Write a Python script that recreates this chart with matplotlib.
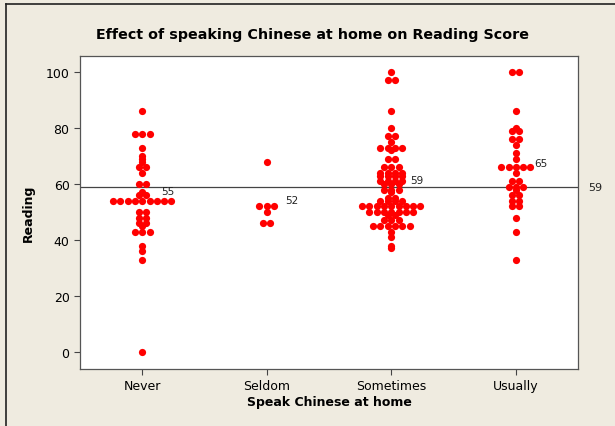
import matplotlib
matplotlib.use("Agg")
import matplotlib.pyplot as plt
from matplotlib.lines import Line2D
import numpy as np

# Reading scores by how often Chinese is spoken at home
categories = ["Never", "Seldom", "Sometimes", "Usually"]

never = [86, 78, 78, 78, 73, 70, 69, 68, 66, 66, 64, 60, 60, 57, 56, 56,
         54, 54, 54, 54, 54, 54, 54, 54, 54, 50, 50, 48, 48, 46, 46, 45,
         43, 43, 43, 38, 36, 33, 0]
seldom = [68, 52, 52, 52, 50, 46, 46]
sometimes = [100, 97, 97, 86, 80, 77, 77, 75, 73, 73, 73, 73, 72, 69, 69,
             66, 66, 66, 64, 64, 64, 64, 63, 63, 63, 63, 61, 61, 61, 61,
             60, 60, 60, 58, 58, 58, 57, 55, 55, 54, 54, 54, 54,
             52, 52, 52, 52, 52, 52, 52, 52, 52,
             50, 50, 50, 50, 50, 50, 50, 49, 49, 47, 47, 47,
             45, 45, 45, 45, 45, 45, 43, 41, 38, 37]
usually = [100, 100, 86, 80, 79, 79, 76, 76, 74, 71, 69, 66, 66, 66, 66, 66,
           64, 61, 61, 59, 59, 59, 58, 56, 56, 54, 54, 52, 52, 48, 43, 33]

groups = [never, seldom, sometimes, usually]
group_means = [55, 52, 59, 65]
grand_mean = 59

BG = "#EFEBE0"
DOT = "#FF0000"
STEP = 0.0585  # horizontal spacing of stacked dots, in category units

fig = plt.figure(figsize=(6.15, 4.27), dpi=100, facecolor=BG)
ax = fig.add_axes([0.130, 0.1335, 0.810, 0.733])
ax.set_facecolor("white")

for i, vals in enumerate(groups):
    pos = i + 1
    vals = np.array(vals)
    for v in np.unique(vals):
        n = np.sum(vals == v)
        offs = (np.arange(n) - (n - 1) / 2) * STEP
        ax.scatter(pos + offs, np.full(n, v), s=27, color=DOT, linewidths=0,
                   zorder=3)
    ax.text(pos + 0.15, group_means[i] + 0.6, str(group_means[i]),
            fontsize=7.5, ha="left", va="bottom", color="#222")

ax.axhline(grand_mean, color="#444", lw=0.9, zorder=2)
ax.text(4.5 + 0.08, grand_mean, str(grand_mean), fontsize=8, ha="left",
        va="center", color="#222", clip_on=False)

ax.set_xlim(0.5, 4.5)
ax.set_ylim(-6.1, 105.7)
ax.set_xticks(range(1, 5))
ax.set_xticklabels(categories)
ax.set_yticks([0, 20, 40, 60, 80, 100])
ax.tick_params(axis="both", labelsize=9, length=4, color="#444",
               direction="out")
for s in ax.spines.values():
    s.set_color("#555")
    s.set_linewidth(0.9)

ax.set_xlabel("Speak Chinese at home", fontsize=9, fontweight="bold",
              labelpad=2)
ax.set_ylabel("Reading", fontsize=9, fontweight="bold", labelpad=8)
fig.text(0.508, 0.918, "Effect of speaking Chinese at home on Reading Score",
         ha="center", va="center", fontsize=10.3, fontweight="bold")

# window border (left and top edges of the Minitab graph frame)
fig.add_artist(Line2D([6 / 615, 6 / 615], [0, 1 - 5 / 427],
                      transform=fig.transFigure, color="#222", lw=1.2))
fig.add_artist(Line2D([6 / 615, 1], [1 - 5 / 427, 1 - 5 / 427],
                      transform=fig.transFigure, color="#222", lw=1.2))

fig.savefig("out.png", dpi=100, facecolor=BG)
